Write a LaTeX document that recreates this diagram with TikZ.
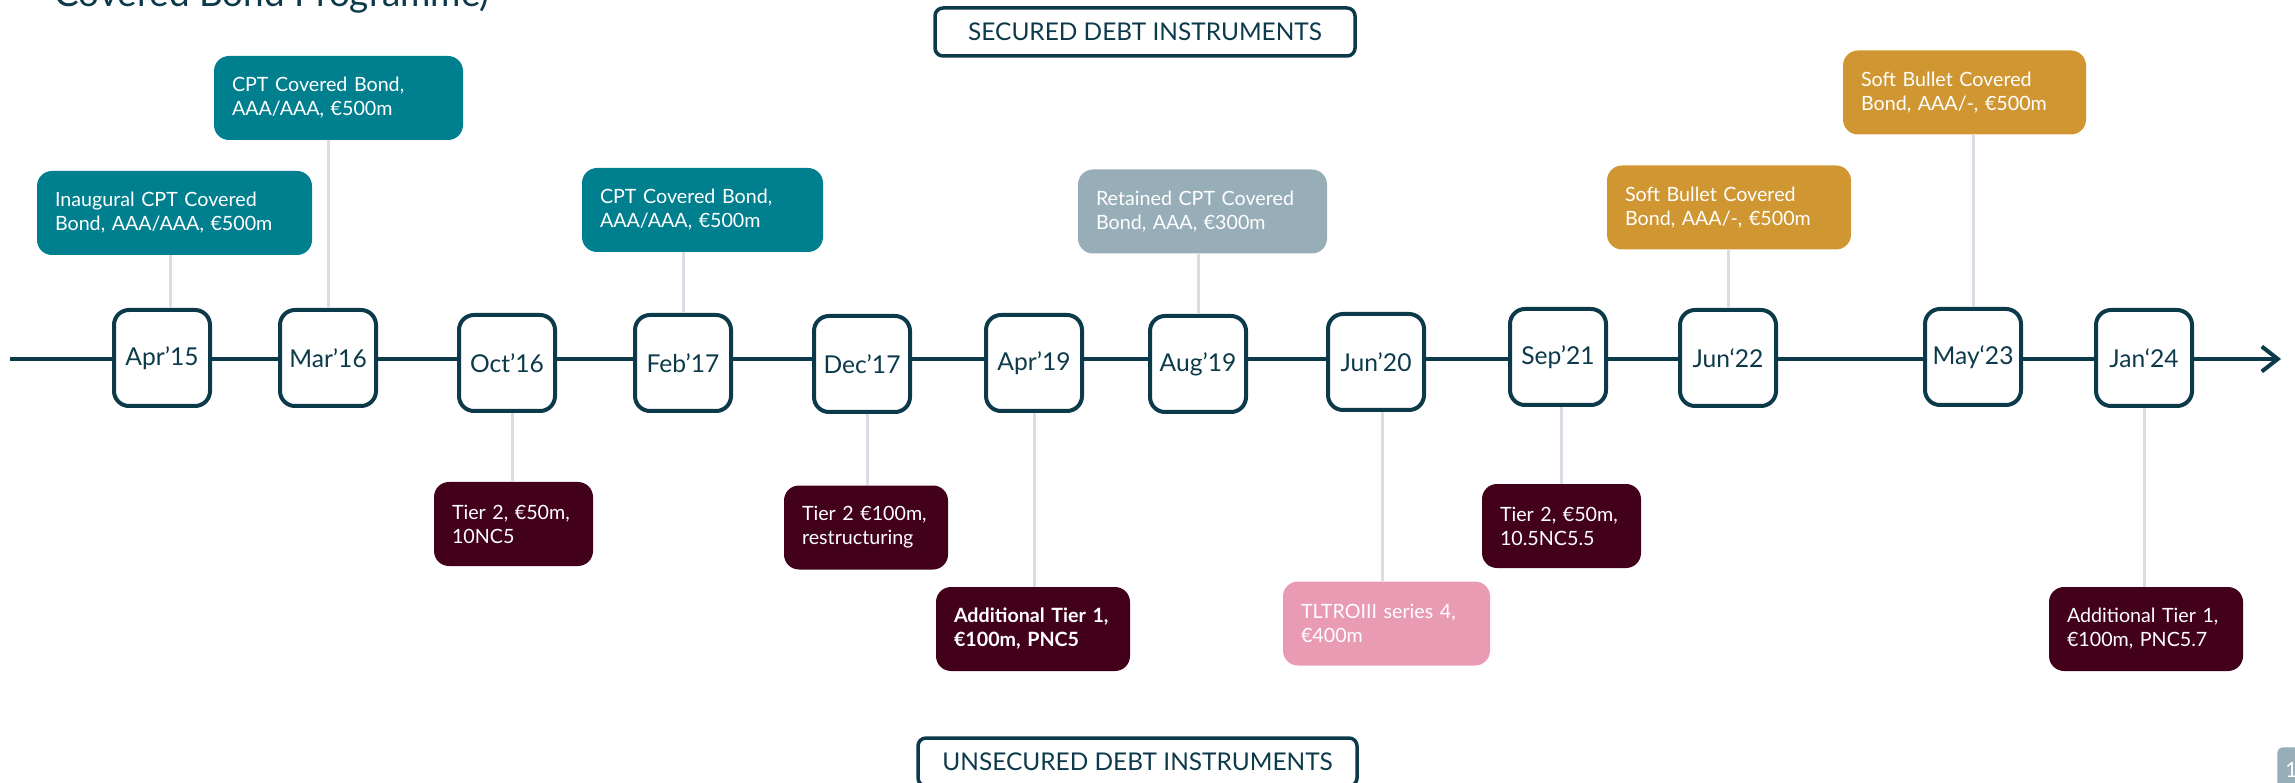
\documentclass[tikz,border=0pt]{standalone}
\usepackage{fontspec}
\setmainfont{Lato}
\usetikzlibrary{arrows.meta}
\definecolor{navy}{RGB}{12,58,74}
\definecolor{tealbox}{RGB}{0,127,143}
\definecolor{greybox}{RGB}{151,173,184}
\definecolor{goldbox}{RGB}{207,150,50}
\definecolor{maroonbox}{RGB}{66,0,26}
\definecolor{pinkbox}{RGB}{233,155,179}
\definecolor{linkgrey}{RGB}{216,222,227}

\begin{document}
\begin{tikzpicture}[
  date/.style = {draw = navy, line width = 0.08cm, fill = white, rounded corners = 0.3cm,
    minimum width = 1.92cm, minimum height = 1.92cm, inner sep = 0pt, text = navy,
    font = \fontsize{14}{16}\selectfont},
  event/.style = {rounded corners = 0.3cm, minimum height = 1.68cm, inner xsep = 0.36cm,
    inner ysep = 0pt, align = left, text = white, font = \fontsize{11.2}{13.7}\selectfont},
  link/.style = {draw = linkgrey, line width = 0.06cm},
  heading/.style = {draw = navy, line width = 0.07cm, rounded corners = 0.16cm,
    minimum height = 0.96cm, text = navy, font = \fontsize{13.9}{16}\selectfont}
]
  \useasboundingbox (0,0) rectangle (45.9,15.64);

  % 标题和页码
  \node[anchor = base west, inner sep = 0pt, text = navy, font = \fontsize{21}{25}\selectfont] (title) at (1.08,15.5) {Covered Bond Programme)};
  \node[anchor = north west, fill = greybox, rounded corners = 0.1cm, minimum width = 0.56cm,
    minimum height = 0.9cm, text = white, font = \fontsize{12}{14}\selectfont] (page) at (45.54,0.70) {1};

  % 分类标签
  \node[heading, minimum width = 8.4cm] (secured) at (22.9,15.0) {SECURED DEBT INSTRUMENTS};
  \node[heading, minimum width = 8.78cm] (unsecured) at (22.75,0.4) {UNSECURED DEBT INSTRUMENTS};

  % 绘制时间轴
  \coordinate (axisstart) at (0.2,8.46);
  \coordinate (axisend) at (45.62,8.46);
  \draw[navy, line width = 0.08cm, -{Straight Barb[length = 0.32cm, width = 0.5cm]}] (axisstart) -- (axisend);

  % 定义日期
  \node[date] (apr15) at (3.24,8.48) {Apr’15};
  \node[date] (mar16) at (6.56,8.48) {Mar’16};
  \node[date] (oct16) at (10.14,8.38) {Oct’16};
  \node[date] (feb17) at (13.66,8.38) {Feb’17};
  \node[date] (dec17) at (17.24,8.36) {Dec’17};
  \node[date] (apr19) at (20.68,8.38) {Apr’19};
  \node[date] (aug19) at (23.96,8.36) {Aug’19};
  \node[date] (jun20) at (27.52,8.40) {Jun’20};
  \node[date] (sep21) at (31.16,8.50) {Sep’21};
  \node[date] (jun22) at (34.56,8.48) {Jun‘22};
  \node[date] (may23) at (39.46,8.50) {May‘23};
  \node[date] (jan24) at (42.88,8.48) {Jan‘24};

  % 有担保债务
  \node[event, fill = tealbox, text width = 4.78cm] (inaugural) at (3.49,11.38) {Inaugural CPT Covered\\Bond, AAA/AAA, €500m};
  \node[event, fill = tealbox, text width = 4.26cm] (cptone) at (6.77,13.68) {CPT Covered Bond,\\AAA/AAA, €500m};
  \node[event, fill = tealbox, text width = 4.10cm] (cpttwo) at (14.05,11.44) {CPT Covered Bond,\\AAA/AAA, €500m};
  \node[event, fill = greybox, text width = 4.26cm] (retained) at (24.05,11.41) {Retained CPT Covered\\Bond, AAA, €300m};
  \node[event, fill = goldbox, text width = 4.16cm] (softone) at (34.58,11.49) {Soft Bullet Covered\\Bond, AAA/-, €500m};
  \node[event, fill = goldbox, text width = 4.14cm] (softtwo) at (39.29,13.79) {Soft Bullet Covered\\Bond, AAA/-, €500m};

  % 无担保债务
  \node[event, fill = maroonbox, text width = 2.46cm] (tierone) at (10.27,5.16) {Tier 2, €50m,\\10NC5};
  \node[event, fill = maroonbox, text width = 2.56cm] (tiertwo) at (17.32,5.09) {Tier 2 €100m,\\restructuring};
  \node[event, fill = maroonbox, text width = 3.16cm, font = \fontsize{11.2}{13.7}\selectfont\bfseries] (atone) at (20.66,3.06) {Additional Tier 1,\\€100m, PNC5};
  \node[event, fill = pinkbox, text width = 3.42cm] (tltro) at (27.73,3.17) {TLTROIII series 4,\\€400m};
  \node[event, fill = maroonbox, text width = 2.46cm] (tierthree) at (31.23,5.12) {Tier 2, €50m,\\10.5NC5.5};
  \node[event, fill = maroonbox, text width = 3.16cm] (attwo) at (42.92,3.06) {Additional Tier 1,\\€100m, PNC5.7};

  % 连接线
  \draw[link] ([xshift = 0.16cm]apr15.north) -- ([xshift = 0.16cm]apr15.north |- inaugural.south);
  \draw[link] (mar16.north) -- (mar16.north |- cptone.south);
  \draw[link] (feb17.north) -- (feb17.north |- cpttwo.south);
  \draw[link] (aug19.north) -- (aug19.north |- retained.south);
  \draw[link] (jun22.north) -- (jun22.north |- softone.south);
  \draw[link] (may23.north) -- (may23.north |- softtwo.south);
  \draw[link] ([xshift = 0.1cm]oct16.south) -- ([xshift = 0.1cm]oct16.south |- tierone.north);
  \draw[link] ([xshift = 0.1cm]dec17.south) -- ([xshift = 0.1cm]dec17.south |- tiertwo.north);
  \draw[link] (apr19.south) -- (apr19.south |- atone.north);
  \draw[link] ([xshift = 0.12cm]jun20.south) -- ([xshift = 0.12cm]jun20.south |- tltro.north);
  \draw[link] ([xshift = 0.06cm]sep21.south) -- ([xshift = 0.06cm]sep21.south |- tierthree.north);
  \draw[link] (jan24.south) -- (jan24.south |- attwo.north);
\end{tikzpicture}
\end{document}
